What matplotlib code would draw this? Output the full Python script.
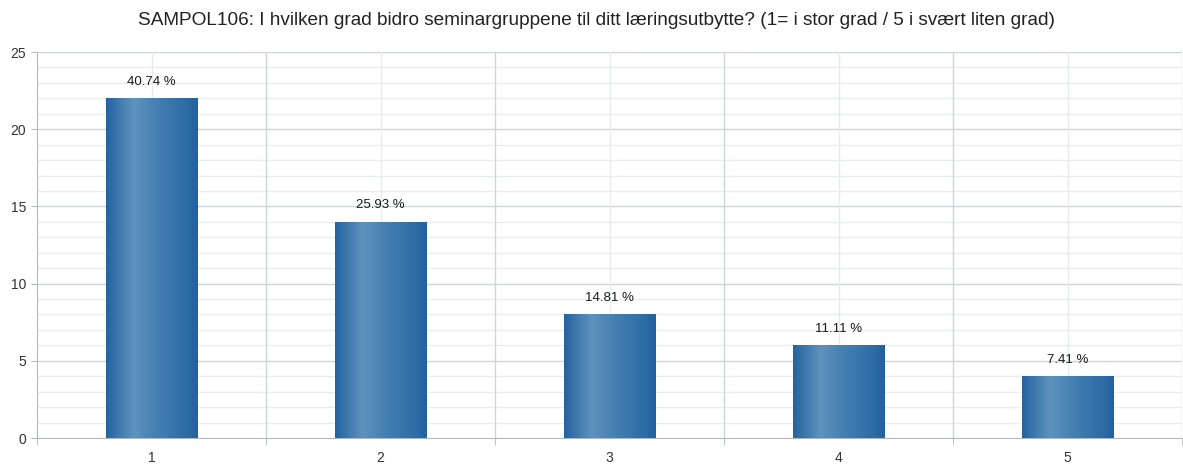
import numpy as np
import matplotlib.pyplot as plt
from matplotlib.colors import LinearSegmentedColormap

# survey answers (count of respondents per grade)
categories = ['1', '2', '3', '4', '5']
counts = [22, 14, 8, 6, 4]
pct_labels = ['40.74 %', '25.93 %', '14.81 %', '11.11 %', '7.41 %']
title = ('SAMPOL106: I hvilken grad bidro seminargruppene til ditt '
         'l\u00e6ringsutbytte? (1= i stor grad / 5 i sv\u00e6rt liten grad)')

plt.rcParams['font.family'] = ['Liberation Sans', 'DejaVu Sans']

fig = plt.figure(figsize=(11.83, 4.66), dpi=100)
ax = fig.add_axes([37 / 1183, 28 / 466, 1145 / 1183, 386 / 466])

x = np.arange(1, len(categories) + 1)
bar_w = 0.4

# horizontal-ish gradient for the bars
cmap = LinearSegmentedColormap.from_list('bargrad', [
    (0.0, '#2563a0'),
    (0.08, '#336fa8'),
    (0.3, '#5e93bc'),
    (0.55, '#4480b2'),
    (0.9, '#2c6aa4'),
    (1.0, '#2260a0'),
])
grad = np.linspace(0, 1, 256).reshape(1, -1)

bars = ax.bar(x, counts, width=bar_w, color='none', edgecolor='none', zorder=3)
for b in bars:
    x0, y0 = b.get_x(), b.get_y()
    w, h = b.get_width(), b.get_height()
    im = ax.imshow(grad, cmap=cmap, aspect='auto',
                   extent=[x0, x0 + w, y0, y0 + h], zorder=3)
    im.set_clip_path(b)

for xi, c, lab in zip(x, counts, pct_labels):
    ax.annotate(lab, (xi, c), xytext=(0, 12), textcoords='offset points',
                ha='center', va='center', fontsize=9.5, color='#1a1a1a')

ax.set_xlim(0.5, len(categories) + 0.5)
ax.set_ylim(0, 25)

# grid
for yv in range(0, 26):
    if yv % 5 == 0:
        continue
    ax.axhline(yv, color='#e9eeee', lw=1, zorder=1)
for yv in range(5, 26, 5):
    ax.axhline(yv, color='#cdd5d8', lw=1, zorder=1)
for xv in x:
    ax.axvline(xv, color='#e6ebeb', lw=1, zorder=1)
for xv in np.arange(1.5, len(categories) + 0.6, 1):
    ax.axvline(xv, color='#cdd5d8', lw=1, zorder=1)

ax.set_yticks(range(0, 26, 5))
ax.set_xticks(x)
ax.set_xticklabels(categories)
ax.set_xticks(np.arange(0.5, len(categories) + 0.6, 1), minor=True)
ax.tick_params(axis='x', which='major', length=0, pad=9, labelsize=10,
               labelcolor='#333333')
ax.tick_params(axis='x', which='minor', length=5, color='#b0babe')
ax.tick_params(axis='y', which='major', length=4, color='#b0babe', pad=4,
               labelsize=10, labelcolor='#333333')

for s in ['top', 'right']:
    ax.spines[s].set_visible(False)
for s in ['left', 'bottom']:
    ax.spines[s].set_color('#b0babe')

fig.text(0.504, 0.957, title, ha='center', va='center', fontsize=13.7,
         color='#222222')

fig.savefig('out.png', dpi=100)
